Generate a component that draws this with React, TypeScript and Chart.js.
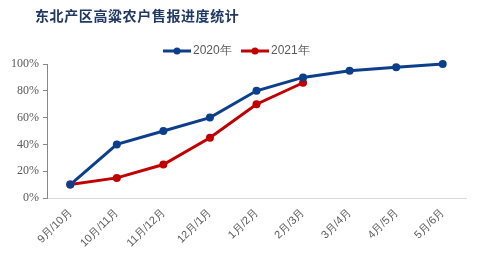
import React, { useEffect, useRef } from "react";
import { Chart, registerables } from "chart.js";

Chart.register(...registerables);

const categories = ["9月/10月", "10月/11月", "11月/12月", "12月/1月", "1月/2月", "2月/3月", "3月/4月", "4月/5月", "5月/6月"];
const series2020 = [10, 40, 50, 60, 80, 90, 95, 97.5, 100];
const series2021 = [10, 15, 25, 45, 70, 86, null, null, null];
const yTicks = [0, 20, 40, 60, 80, 100];
const titleText = "东北产区高粱农户售报进度统计";
const legendNames = ["2020年", "2021年"];

const BLUE = "#0B3F8C";
const RED = "#C00000";

const overlay = {
  id: "overlay",
  afterDraw(chart: any) {
    const ctx = chart.ctx;
    ctx.save();
    ctx.fillStyle = "#1F3864";
    ctx.font = "bold 14px 'Noto Sans CJK SC'";
    ctx.textBaseline = "middle";
    (ctx as any).letterSpacing = "0.6px";
    ctx.fillText(titleText, 35, 16);
    (ctx as any).letterSpacing = "0px";
    const items = [
      { x: 163, color: BLUE, name: legendNames[0] },
      { x: 241, color: RED, name: legendNames[1] },
    ];
    ctx.font = "12px 'Liberation Sans', Arial, sans-serif";
    for (const it of items) {
      ctx.strokeStyle = it.color;
      ctx.lineWidth = 3;
      ctx.beginPath();
      ctx.moveTo(it.x, 51);
      ctx.lineTo(it.x + 28, 51);
      ctx.stroke();
      ctx.fillStyle = it.color;
      ctx.beginPath();
      ctx.arc(it.x + 14, 51, 3.5, 0, Math.PI * 2);
      ctx.fill();
      ctx.fillStyle = "#595959";
      ctx.fillText(it.name, it.x + 30, 51);
    }
    ctx.restore();
  },
};

export default function App() {
  const ref = useRef<HTMLCanvasElement>(null);
  useEffect(() => {
    document.body.style.margin = "0";
    const chart = new Chart(ref.current!, {
      type: "line",
      data: {
        labels: categories,
        datasets: [
          {
            label: legendNames[0],
            data: series2020,
            borderColor: BLUE,
            backgroundColor: BLUE,
            borderWidth: 3,
            pointRadius: 4,
            pointBorderWidth: 0,
            pointHoverRadius: 4,
            tension: 0,
            clip: false as any,
          },
          {
            label: legendNames[1],
            data: series2021,
            borderColor: RED,
            backgroundColor: RED,
            borderWidth: 3,
            pointRadius: 4,
            pointBorderWidth: 0,
            pointHoverRadius: 4,
            tension: 0,
            clip: false as any,
          },
        ],
      },
      options: {
        responsive: false,
        animation: false,
        layout: { padding: { top: 64, right: 14, left: 0, bottom: 0 } },
        plugins: { legend: { display: false }, title: { display: false }, tooltip: { enabled: false } },
        scales: {
          x: {
            offset: true,
            grid: { display: false, drawTicks: false },
            border: { color: "#D9D9D9", width: 1 },
            ticks: {
              color: "#595959",
              font: { size: 11, family: "'Liberation Sans', Arial, sans-serif" },
              maxRotation: 45,
              minRotation: 45,
              padding: 8,
              autoSkip: false,
            },
            afterFit(scale: any) {
              scale.height = 67;
            },
          },
          y: {
            min: 0,
            max: 100,
            afterBuildTicks(scale: any) {
              scale.ticks = yTicks.map((v) => ({ value: v }));
            },
            grid: { drawOnChartArea: false, drawTicks: true, tickLength: 4, color: "#888888" },
            border: { color: "#888888", width: 1 },
            ticks: {
              color: "#595959",
              font: { size: 12, family: "'Liberation Serif', 'Times New Roman', serif" },
              padding: 4,
              callback: (v: any) => v + "%",
            },
            afterFit(scale: any) {
              scale.width = 47;
            },
          },
        },
      },
      plugins: [overlay],
    });
    return () => chart.destroy();
  }, []);
  return <canvas ref={ref} width={480} height={265} style={{ display: "block" }} />;
}
